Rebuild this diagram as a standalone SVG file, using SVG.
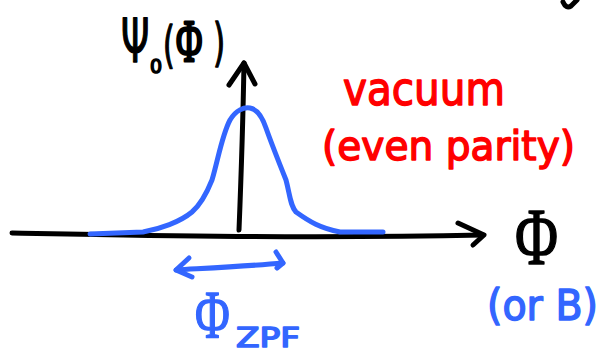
<svg xmlns="http://www.w3.org/2000/svg" width="607" height="355" viewBox="0 0 607 355">
<style>
.ln{fill:none;stroke-linecap:round;stroke-linejoin:round;stroke-width:5}
.k{stroke:#000}
.b{stroke:#3366ff}
.t{font-family:"DejaVu Sans","Liberation Sans",sans-serif;stroke-linejoin:round;stroke-linecap:round}
.phi{font-family:"Liberation Serif","DejaVu Serif",serif;stroke-width:3}
.tk{fill:#000;stroke:#000;stroke-width:1.5}
.tr{fill:#ff0000;stroke:#ff0000;stroke-width:1.5}
.tb{fill:#3366ff;stroke:#3366ff;stroke-width:1.5}
</style>
<rect width="607" height="355" fill="#fff"/>
<g id="connectors">
<path class="ln k" d="M12,233 C120,235 300,239 483,235"/>
<path class="ln k" d="M458,223 L484,235 L473,245"/>
<path class="ln k" d="M239,230 C241,180 243,120 244,63"/>
<path class="ln k" d="M229,85 L244,63 L255,84"/>
<path class="ln b" d="M176,270 C210,268 250,266 283,263"/>
<path class="ln b" d="M189,258 L176,270 L192,277"/>
<path class="ln b" d="M276,252 L283,263 L277,268"/>
</g>
<g id="curve">
<path class="ln b" d="M90,234 L143,232 C160,229 180,222 192,212 C200,205 206,195 212,180 C218,160 222,135 230,120 C236,110 244,107 250,108 C256,109 262,116 266,128 C272,145 280,165 286,180 C290,195 290,205 296,212 C310,222 320,228 340,232 L383,232"/>
</g>
<g id="mark">
<path class="ln k" d="M563,2 Q566,9 571,6 L577,0"/>
</g>
<g id="label-psi">
<text class="t tk" transform="scale(0.6,1)" x="201.7" y="62" font-size="60">Ψ</text>
<text class="t tk" x="150" y="73" font-size="19">0</text>
<text class="t tk" transform="scale(0.6,1)"><tspan x="271.7" y="62" font-size="50">(</tspan><tspan class="phi" x="293.3" y="61" font-size="60">Φ</tspan><tspan x="355" y="60" font-size="52">)</tspan></text>
</g>
<g id="label-vacuum">
<text class="t tr" x="343" y="105" font-size="46" textLength="162" lengthAdjust="spacingAndGlyphs">vacuum</text>
<text class="t tr" x="322" y="160" font-size="40" textLength="253" lengthAdjust="spacingAndGlyphs">(even parity)</text>
</g>
<g id="label-phi-axis">
<text class="t phi tk" x="515" y="264" font-size="80" textLength="43" lengthAdjust="spacingAndGlyphs">Φ</text>
<text class="t tb" x="487" y="320" font-size="42" textLength="111" lengthAdjust="spacingAndGlyphs">(or B)</text>
</g>
<g id="label-phi-zpf">
<text class="t phi tb" transform="scale(0.7,1)" x="278.6" y="337" font-size="68">Φ</text>
<text class="t tb" x="236" y="347" font-size="26" textLength="64" lengthAdjust="spacingAndGlyphs">ZPF</text>
</g>
</svg>
